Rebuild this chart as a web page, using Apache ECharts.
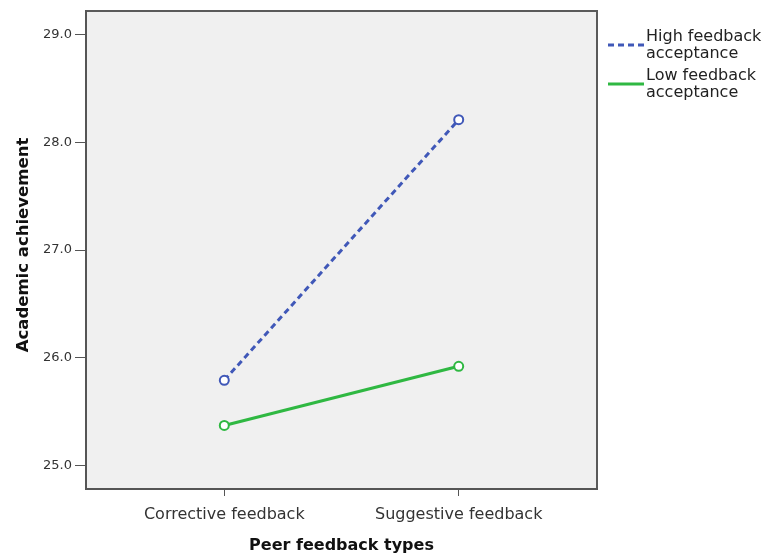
<!DOCTYPE html>
<html>
<head>
<meta charset="utf-8">
<script src="https://cdn.jsdelivr.net/npm/echarts@6/dist/echarts.min.js"></script>
<style>html,body{margin:0;padding:0;background:#fff}#c{width:778px;height:555px}</style>
</head>
<body>
<div id="c"></div>
<script>
const categories = ['Corrective feedback', 'Suggestive feedback'];
const highAcceptance = [25.79, 28.21];
const lowAcceptance = [25.37, 25.92];
const yTicks = [25, 26, 27, 28, 29];
const seriesNames = ['High feedback\nacceptance', 'Low feedback\nacceptance'];

const toPts = arr => arr.map((v, i) => [i, v]);
const font = 'DejaVu Sans';
const chart = echarts.init(document.getElementById('c'), null, {renderer: 'canvas'});
chart.setOption({
  animation: false,
  textStyle: {fontFamily: font},
  grid: {left: 86, right: 181, top: 11, bottom: 66, outerBoundsMode: 'none', containLabel: false, show: true, backgroundColor: '#f0f0f0', borderColor: '#5a5a5a', borderWidth: 2},
  legend: {
    orient: 'vertical', left: 603, top: 23, itemGap: 5, itemWidth: 36, itemHeight: 3,
    textStyle: {fontFamily: font, fontSize: 16, color: '#222', lineHeight: 17, padding: [0,0,0,-3]},
    data: [
      {name: seriesNames[0], icon: 'path://M0,0h6v3h-6z M10,0h6v3h-6z M20,0h6v3h-6z M30,0h6v3h-6z'},
      {name: seriesNames[1], icon: 'rect'}
    ]
  },
  xAxis: {
    type: 'value', min: -0.59, max: 1.59,
    axisLine: {show: true, onZero: false, lineStyle: {color: '#555', width: 2}},
    axisTick: {show: true, customValues: [0, 1], length: 7, lineStyle: {color: '#555'}},
    axisLabel: {customValues: [0, 1], formatter: v => categories[Math.round(v)], fontSize: 16, color: '#333', margin: 18, fontFamily: font},
    splitLine: {show: false},
    name: 'Peer feedback types', nameLocation: 'middle', nameGap: 49,
    nameTextStyle: {fontSize: 16, fontWeight: 'bold', color: '#111', fontFamily: font}
  },
  yAxis: {
    type: 'value', min: 24.78, max: 29.22,
    axisLine: {show: true, onZero: false, lineStyle: {color: '#555', width: 2}},
    axisTick: {show: true, inside: false, customValues: yTicks, length: 11, lineStyle: {color: '#555'}},
    axisLabel: {customValues: yTicks, formatter: v => v.toFixed(1), fontSize: 13, color: '#333', margin: 14, fontFamily: font},
    splitLine: {show: false},
    name: 'Academic achievement', nameLocation: 'middle', nameGap: 54,
    nameTextStyle: {fontSize: 16.5, fontWeight: 'bold', color: '#111', fontFamily: font, padding: [0, 0, 0, 10]}
  },
  series: [
    {name: seriesNames[0], type: 'line', data: toPts(highAcceptance), symbol: 'emptyCircle', symbolSize: 9,
     lineStyle: {color: '#4058b8', width: 3, type: [6, 4]}, itemStyle: {color: '#4058b8', borderWidth: 1.5}},
    {name: seriesNames[1], type: 'line', data: toPts(lowAcceptance), symbol: 'emptyCircle', symbolSize: 9,
     lineStyle: {color: '#2fb842', width: 3}, itemStyle: {color: '#2fb842', borderWidth: 1.5}}
  ]
});
</script>
</body>
</html>
